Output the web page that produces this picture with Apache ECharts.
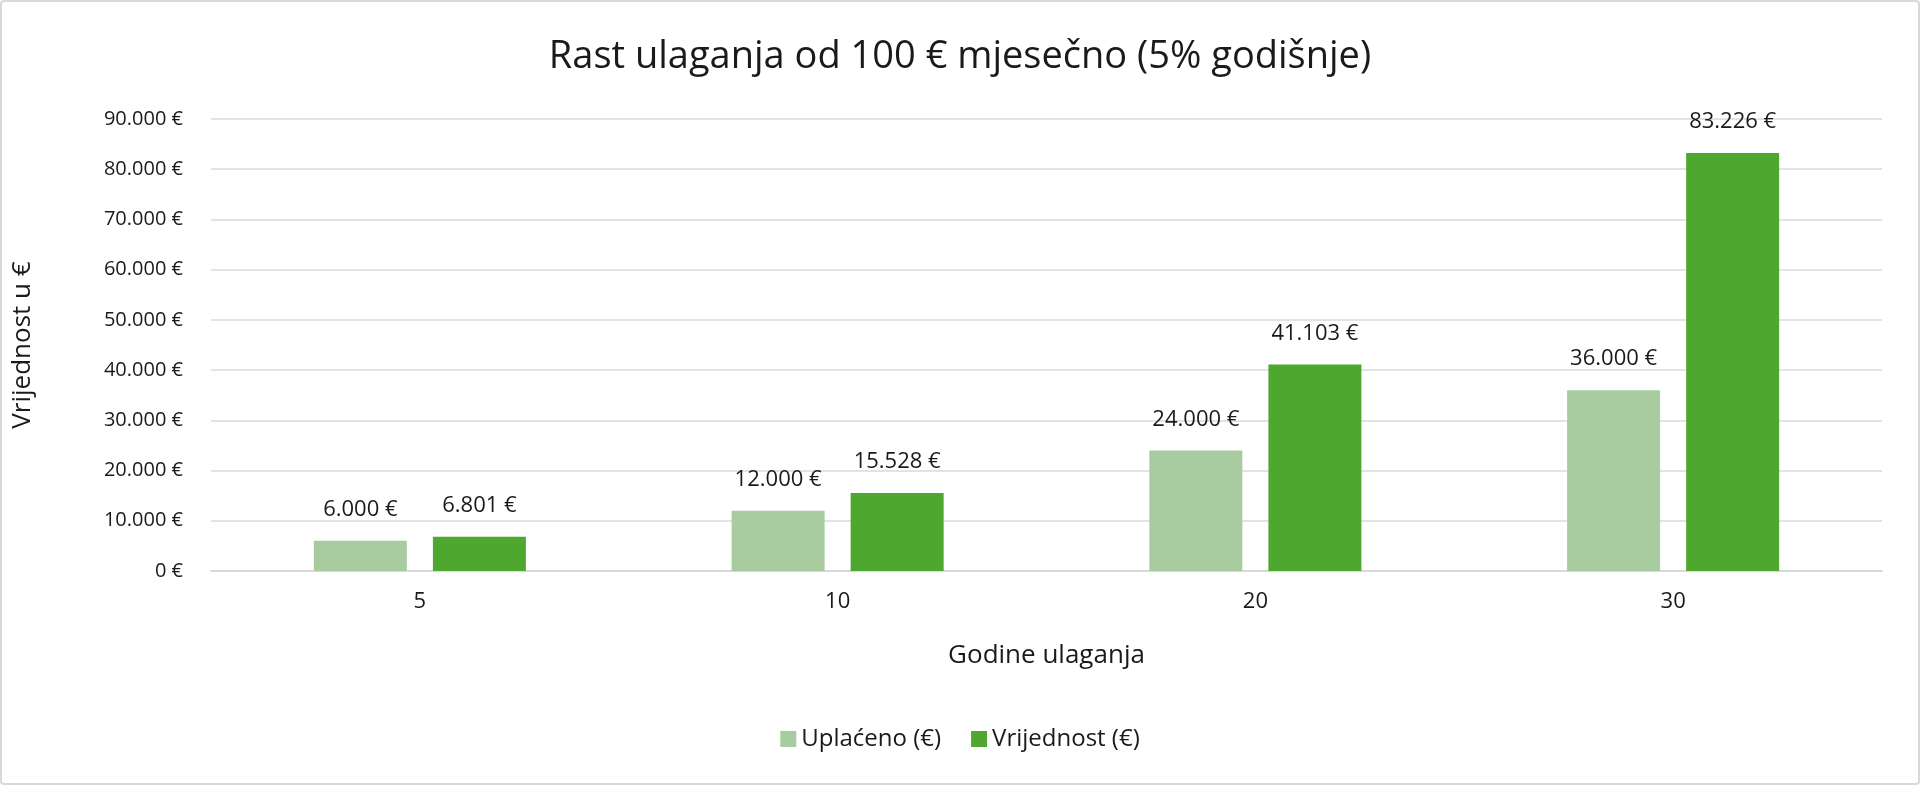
<!DOCTYPE html>
<html>
<head>
<meta charset="utf-8">
<script src="https://cdn.jsdelivr.net/npm/echarts@6/dist/echarts.min.js"></script>
<style>
  html, body { margin: 0; padding: 0; background: #fff; }
  #chart {
    width: 1916px; height: 781px;
    border: 2px solid #d9d9d9; border-radius: 4px;
  }
</style>
</head>
<body>
<div id="chart"></div>
<script>
// chart data
const years = ["5", "10", "20", "30"];
const paidIn = [6000, 12000, 24000, 36000];
const value = [6801, 15528, 41103, 83226];
const seriesNames = ["Uplaćeno (€)", "Vrijednost (€)"];

function euro(v) {
    return String(Math.round(v)).replace(/\B(?=(\d{3})+(?!\d))/g, ".") + " €";
}

const font = "Open Sans";
const textColor = "#1a1a1a";

var chart = echarts.init(document.getElementById("chart"));
var labelStyle = {
    show: true,
    position: "top",
    distance: 20,
    fontFamily: font,
    fontSize: 22,
    color: textColor,
    formatter: p => euro(p.value)
};

chart.setOption({
    animation: false,
    title: {
        text: "Rast ulaganja od 100 € mjesečno (5% godišnje)",
        left: "center",
        top: 31,
        textStyle: { fontFamily: font, fontSize: 38, fontWeight: "normal", color: textColor }
    },
    legend: {
        data: seriesNames,
        bottom: 27,
        left: "center",
        itemWidth: 16,
        itemHeight: 16,
        itemGap: 30,
        icon: "rect",
        textStyle: { fontFamily: font, fontSize: 24, color: textColor }
    },
    grid: { left: 208, right: 36, top: 117, bottom: 212 },
    xAxis: {
        type: "category",
        data: years,
        name: "Godine ulaganja",
        nameLocation: "middle",
        nameGap: 72,
        nameTextStyle: { fontFamily: font, fontSize: 26, color: textColor },
        axisLine: { lineStyle: { color: "#d9d9d9", width: 2 } },
        axisTick: { show: false },
        axisLabel: { margin: 20, fontFamily: font, fontSize: 22, color: textColor }
    },
    yAxis: {
        type: "value",
        min: 0,
        max: 90000,
        interval: 10000,
        name: "Vrijednost u €",
        nameLocation: "middle",
        nameGap: 175,
        nameTextStyle: { fontFamily: font, fontSize: 26, color: textColor },
        axisLabel: { margin: 28, fontFamily: font, fontSize: 20, color: textColor, formatter: euro },
        splitLine: { lineStyle: { color: "#e3e3e3", width: 2 } }
    },
    series: [
        {
            name: seriesNames[0],
            type: "bar",
            data: paidIn,
            barWidth: 93,
            barGap: "28%",
            itemStyle: { color: "#a9cba0" },
            label: labelStyle
        },
        {
            name: seriesNames[1],
            type: "bar",
            data: value,
            barWidth: 93,
            itemStyle: { color: "#4ea72e" },
            label: labelStyle
        }
    ]
});
</script>
</body>
</html>
